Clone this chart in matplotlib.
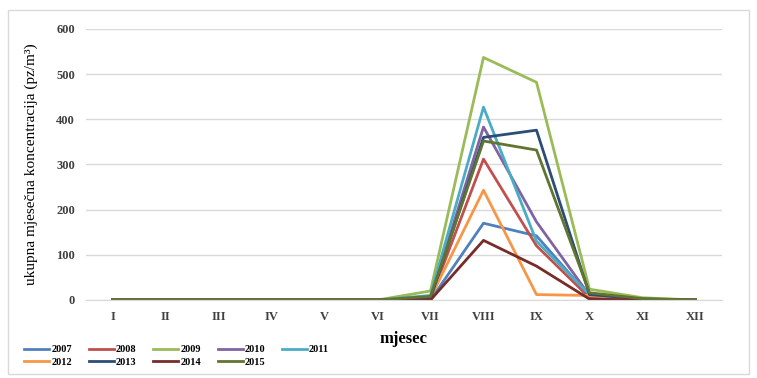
import matplotlib.pyplot as plt
from matplotlib.patches import Rectangle

months = ['I', 'II', 'III', 'IV', 'V', 'VI', 'VII', 'VIII', 'IX', 'X', 'XI', 'XII']
x = list(range(1, 13))

y_2007 = [0, 0, 0, 0, 0, 0, 0, 170, 142, 8, 1, 0]
y_2008 = [0, 0, 0, 0, 0, 0, 3, 312, 120, 5, 1, 0]
y_2009 = [0, 0, 0, 0, 0, 0, 20, 537, 482, 24, 5, 0]
y_2010 = [0, 0, 0, 0, 0, 0, 5, 383, 173, 10, 2, 0]
y_2011 = [0, 0, 0, 0, 0, 0, 10, 427, 130, 12, 2, 0]
y_2012 = [0, 0, 0, 0, 0, 0, 5, 243, 12, 10, 1, 0]
y_2013 = [0, 0, 0, 0, 0, 0, 3, 360, 376, 12, 2, 0]
y_2014 = [0, 0, 0, 0, 0, 0, 0, 132, 75, 2, 0, 0]
y_2015 = [0, 0, 0, 0, 0, 0, 8, 352, 332, 16, 3, 0]

series = [('2007', y_2007, '#4F81BD'), ('2008', y_2008, '#C0504D'),
          ('2009', y_2009, '#9BBB59'), ('2010', y_2010, '#8064A2'),
          ('2011', y_2011, '#4BACC6'), ('2012', y_2012, '#F79646'),
          ('2013', y_2013, '#2C4D75'), ('2014', y_2014, '#772C2A'),
          ('2015', y_2015, '#5F7530')]

plt.rcParams['font.family'] = ['Liberation Serif', 'DejaVu Serif']

fig = plt.figure(figsize=(7.57, 3.78), dpi=100)
ax = fig.add_axes([86 / 757, 1 - 300 / 378, 636 / 757, 271 / 378])

lines = {}
for name, y, c in series:
    lines[name], = ax.plot(x, y, color=c, lw=2, label=name)

ax.set_xlim(0.5, 12.5)
ax.set_ylim(0, 600)
ax.set_yticks(range(0, 601, 100))
ax.set_xticks(x, months)
ax.grid(axis='y', color='#D9D9D9', lw=1)
ax.set_axisbelow(True)
for s in ['top', 'right', 'left']:
    ax.spines[s].set_visible(False)
ax.spines['bottom'].set_color('#D9D9D9')
ax.tick_params(length=0, labelsize=9, pad=8)
for lab in ax.get_xticklabels() + ax.get_yticklabels():
    lab.set_fontweight('bold')
    lab.set_color('#404040')
ax.set_xlabel('mjesec', fontsize=12, fontweight='bold', labelpad=6)
ax.set_ylabel('ukupna mjesečna koncentracija (pz/m³)', fontsize=11, labelpad=13)

# legend filled row by row (matplotlib fills columns first)
order = ['2007', '2012', '2008', '2013', '2009', '2014', '2010', '2015', '2011']
fig.legend([lines[k] for k in order], order, loc='lower left',
           bbox_to_anchor=(15 / 757, 2 / 378), ncol=5, frameon=False,
           handlelength=2.4, handletextpad=0.2, columnspacing=1.6,
           labelspacing=0.3, prop={'weight': 'bold', 'size': 7.5})

fig.add_artist(Rectangle((8 / 757, 4 / 378), 741 / 757, 364 / 378,
                         transform=fig.transFigure, fill=False,
                         edgecolor='#D9D9D9', lw=1))

plt.savefig('out.png', dpi=100)
